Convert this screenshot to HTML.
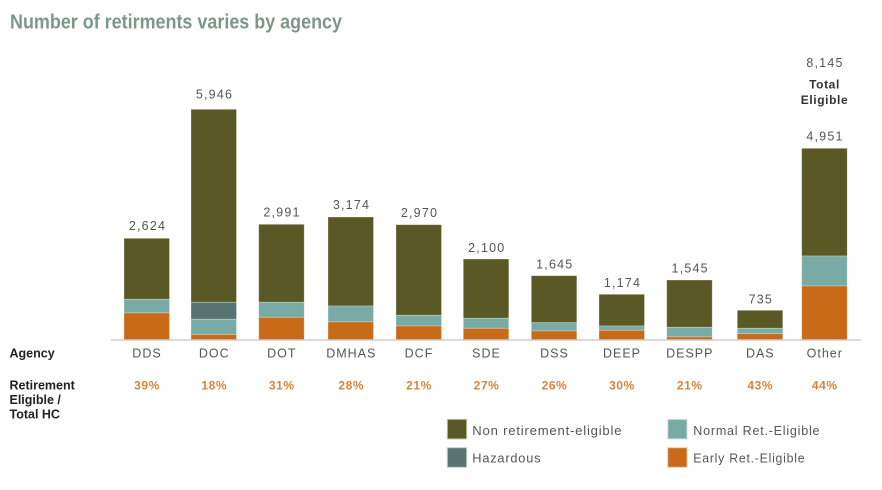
<!DOCTYPE html>
<html>
<head>
<meta charset="utf-8">
<style>
  html,body{margin:0;padding:0;background:#fff;}
  svg{display:block;}
  .v{font-family:"Liberation Sans",sans-serif;font-size:12.5px;fill:#555;letter-spacing:1.2px;text-anchor:middle;}
  .a{font-family:"Liberation Sans",sans-serif;font-size:12.5px;fill:#555;letter-spacing:1px;text-anchor:middle;}
  .p{font-family:"Liberation Sans",sans-serif;font-size:12px;font-weight:bold;fill:#d9843a;letter-spacing:0.6px;text-anchor:middle;}
  .l{font-family:"Liberation Sans",sans-serif;font-size:12.5px;font-weight:bold;fill:#222;}
  .g{font-family:"Liberation Sans",sans-serif;font-size:13px;fill:#555;letter-spacing:0.8px;}
  .o{fill:#5a5926;}
  .t{fill:#78aaa6;}
  .r{fill:#c86a18;}
  .h{fill:#587471;}
  rect{stroke:rgba(255,255,255,0.35);stroke-width:0.8;}
</style>
</head>
<body>
<svg width="882" height="490" viewBox="0 0 882 490" xmlns="http://www.w3.org/2000/svg">
  <text x="10" y="28.5" font-family="Liberation Sans, sans-serif" font-size="20" font-weight="bold" fill="#7d9787" textLength="332" lengthAdjust="spacingAndGlyphs">Number of retirments varies by agency</text>

  <!-- DDS -->
  <rect class="o" x="124" y="238.3" width="45.5" height="61"/>
  <rect class="t" x="124" y="299.3" width="45.5" height="13.7"/>
  <rect class="r" x="124" y="313" width="45.5" height="26.5"/>
  <!-- DOC -->
  <rect class="o" x="191" y="109.3" width="45.5" height="193"/>
  <rect class="h" x="191" y="302.3" width="45.5" height="17"/>
  <rect class="t" x="191" y="319.3" width="45.5" height="15.2"/>
  <rect class="r" x="191" y="334.5" width="45.5" height="5"/>
  <!-- DOT -->
  <rect class="o" x="258.7" y="224.3" width="45.5" height="78"/>
  <rect class="t" x="258.7" y="302.3" width="45.5" height="15"/>
  <rect class="r" x="258.7" y="317.3" width="45.5" height="22.2"/>
  <!-- DMHAS -->
  <rect class="o" x="328" y="217" width="45.5" height="89"/>
  <rect class="t" x="328" y="306" width="45.5" height="16"/>
  <rect class="r" x="328" y="322" width="45.5" height="17.5"/>
  <!-- DCF -->
  <rect class="o" x="396" y="224.7" width="45.5" height="90.6"/>
  <rect class="t" x="396" y="315.3" width="45.5" height="10.7"/>
  <rect class="r" x="396" y="326" width="45.5" height="13.5"/>
  <!-- SDE -->
  <rect class="o" x="463.3" y="259" width="45.5" height="59.3"/>
  <rect class="t" x="463.3" y="318.3" width="45.5" height="10"/>
  <rect class="r" x="463.3" y="328.3" width="45.5" height="11.2"/>
  <!-- DSS -->
  <rect class="o" x="531.3" y="275.7" width="45.5" height="47"/>
  <rect class="t" x="531.3" y="322.7" width="45.5" height="8.3"/>
  <rect class="r" x="531.3" y="331" width="45.5" height="8.5"/>
  <!-- DEEP -->
  <rect class="o" x="599" y="294.3" width="45.5" height="31.7"/>
  <rect class="t" x="599" y="326" width="45.5" height="4.3"/>
  <rect class="r" x="599" y="330.3" width="45.5" height="9.2"/>
  <!-- DESPP -->
  <rect class="o" x="666.7" y="280" width="45.5" height="47.3"/>
  <rect class="t" x="666.7" y="327.3" width="45.5" height="9.7"/>
  <rect class="r" x="666.7" y="337" width="45.5" height="2.5"/>
  <!-- DAS -->
  <rect class="o" x="737.3" y="310.3" width="45.5" height="18"/>
  <rect class="t" x="737.3" y="328.3" width="45.5" height="5.4"/>
  <rect class="r" x="737.3" y="333.7" width="45.5" height="5.8"/>
  <!-- Other -->
  <rect class="o" x="801.7" y="148.3" width="45.5" height="107.7"/>
  <rect class="t" x="801.7" y="256" width="45.5" height="30"/>
  <rect class="r" x="801.7" y="286" width="45.5" height="53.5"/>

  <line x1="111" y1="340" x2="861" y2="340" stroke="#c4c4c4" stroke-width="1.3"/>

  <!-- value labels -->
  <text class="v" x="147.5" y="230">2,624</text>
  <text class="v" x="214.5" y="98.5">5,946</text>
  <text class="v" x="282" y="216.5">2,991</text>
  <text class="v" x="351.5" y="209">3,174</text>
  <text class="v" x="419.5" y="216.8">2,970</text>
  <text class="v" x="486.8" y="252">2,100</text>
  <text class="v" x="554.8" y="268.3">1,645</text>
  <text class="v" x="622.5" y="287">1,174</text>
  <text class="v" x="690.2" y="272.6">1,545</text>
  <text class="v" x="760.8" y="303.3">735</text>
  <text class="v" x="825" y="140.7">4,951</text>
  <text class="v" x="825" y="67">8,145</text>
  <text x="824.5" y="88.5" font-family="Liberation Sans, sans-serif" font-size="12" font-weight="bold" fill="#333" text-anchor="middle" letter-spacing="0.6">Total</text>
  <text x="824.5" y="104" font-family="Liberation Sans, sans-serif" font-size="12" font-weight="bold" fill="#333" text-anchor="middle" letter-spacing="0.6">Eligible</text>

  <!-- agency labels -->
  <text class="l" x="9.5" y="357.5">Agency</text>
  <text class="a" x="147" y="357.5">DDS</text>
  <text class="a" x="214.3" y="357.5">DOC</text>
  <text class="a" x="281.8" y="357.5">DOT</text>
  <text class="a" x="351.3" y="357.5">DMHAS</text>
  <text class="a" x="419" y="357.5">DCF</text>
  <text class="a" x="486.5" y="357.5">SDE</text>
  <text class="a" x="554.5" y="357.5">DSS</text>
  <text class="a" x="622" y="357.5">DEEP</text>
  <text class="a" x="689.8" y="357.5">DESPP</text>
  <text class="a" x="760.3" y="357.5">DAS</text>
  <text class="a" x="824.8" y="357.5">Other</text>

  <!-- pct labels -->
  <text class="l" x="9.5" y="389.5">Retirement</text>
  <text class="l" x="9.5" y="404">Eligible /</text>
  <text class="l" x="9.5" y="418.5">Total HC</text>
  <text class="p" x="147" y="389.5">39%</text>
  <text class="p" x="214.3" y="389.5">18%</text>
  <text class="p" x="281.8" y="389.5">31%</text>
  <text class="p" x="351.3" y="389.5">28%</text>
  <text class="p" x="419" y="389.5">21%</text>
  <text class="p" x="486.5" y="389.5">27%</text>
  <text class="p" x="554.5" y="389.5">26%</text>
  <text class="p" x="622" y="389.5">30%</text>
  <text class="p" x="689.8" y="389.5">21%</text>
  <text class="p" x="760.3" y="389.5">43%</text>
  <text class="p" x="824.8" y="389.5">44%</text>

  <!-- legend -->
  <rect class="o" x="447.3" y="419.3" width="19.4" height="19.7" style="stroke:#c9c9b0;stroke-width:1"/>
  <text class="g" x="472.3" y="435" textLength="150" lengthAdjust="spacingAndGlyphs">Non retirement-eligible</text>
  <rect class="t" x="667.7" y="419.3" width="19.4" height="19.7" style="stroke:#d6e6e4;stroke-width:1"/>
  <text class="g" x="693.3" y="435" textLength="127" lengthAdjust="spacingAndGlyphs">Normal Ret.-Eligible</text>
  <rect class="h" x="447.3" y="447.7" width="19.4" height="19.6" style="stroke:#c4d0ce;stroke-width:1"/>
  <text class="g" x="472.3" y="462.7" textLength="69" lengthAdjust="spacingAndGlyphs">Hazardous</text>
  <rect class="r" x="667.7" y="447.7" width="19.4" height="19.6" style="stroke:#f0cfae;stroke-width:1"/>
  <text class="g" x="693.3" y="462.7" textLength="112" lengthAdjust="spacingAndGlyphs">Early Ret.-Eligible</text>
</svg>
</body>
</html>
